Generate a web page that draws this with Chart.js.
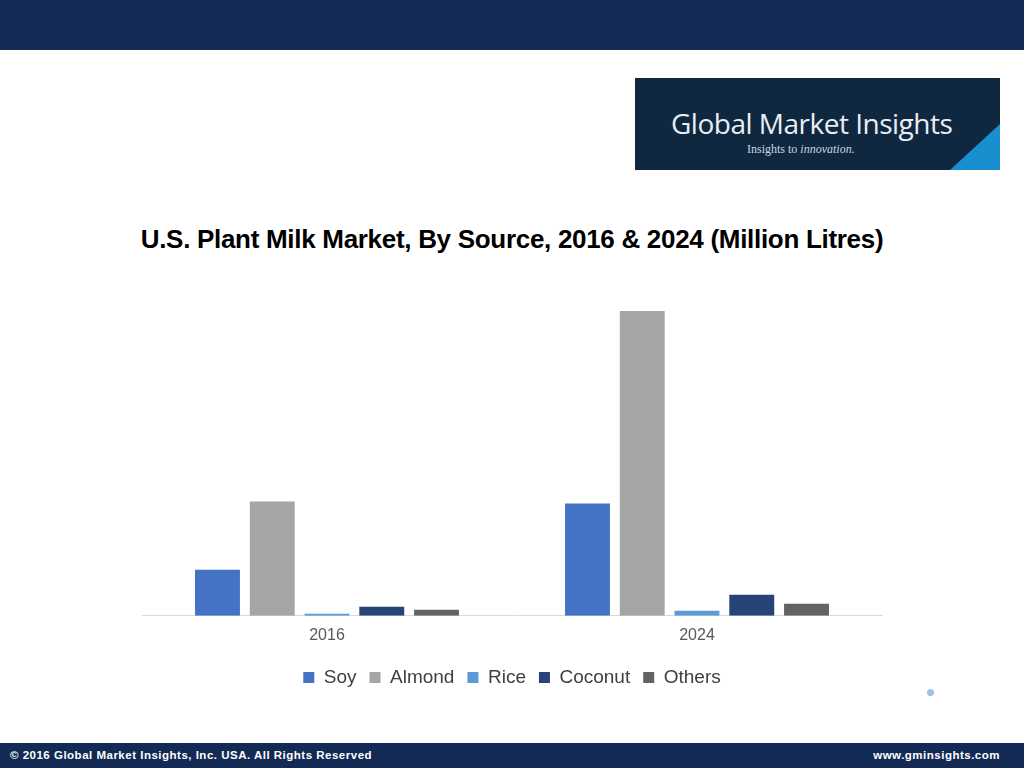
<!DOCTYPE html>
<html><head><meta charset="utf-8">
<script src="https://cdn.jsdelivr.net/npm/chart.js@4/dist/chart.umd.min.js"></script>
<style>
body{margin:0;width:1024px;height:768px;position:relative;background:#fff;font-family:"Liberation Sans",Arial,sans-serif;overflow:hidden}
#top{position:absolute;left:0;top:0;width:1024px;height:50px;background:#132a54}
#logo{position:absolute;left:635px;top:78px;width:365px;height:92px;background:#10283f;overflow:hidden}
#logo .t{position:absolute;left:36px;top:26px;color:#e8eef3;font-family:"Open Sans",sans-serif;font-size:28px;letter-spacing:-0.5px}
#logo .s{position:absolute;left:112px;top:64px;color:#c9d6e0;font-family:"Liberation Serif",serif;font-size:12px}
#logo .s i{font-style:italic}
#logo .tri{position:absolute;right:0;bottom:0;width:0;height:0;border-left:50px solid transparent;border-bottom:46px solid #1a8fd0}
#title{position:absolute;left:0;top:224px;width:1024px;text-align:center;font-weight:bold;font-size:26px;letter-spacing:-0.3px;color:#000}
#wrap{position:absolute;left:137px;top:276px;width:750px;height:422px}
#foot{position:absolute;left:0;top:743px;width:1024px;height:25px;background:#132a54;color:#fff;font-weight:bold;font-size:11.5px;letter-spacing:0.5px}
#foot .l{position:absolute;left:10px;top:6px}
#foot .r{position:absolute;right:24px;top:6px}
#dot{position:absolute;left:927px;top:689px;width:7px;height:7px;border-radius:50%;background:#9cc3e6}
</style></head><body>
<div id="top"></div>
<div id="logo"><div class="t">Global Market Insights</div><div class="s">Insights to <i>innovation.</i></div><div class="tri"></div></div>
<div id="title">U.S. Plant Milk Market, By Source, 2016 &amp; 2024 (Million Litres)</div>
<div id="wrap"><canvas id="c"></canvas></div>
<div id="dot"></div>
<div id="foot"><span class="l">© 2016 Global Market Insights, Inc. USA.  All Rights Reserved</span><span class="r">www.gminsights.com</span></div>
<script>
const categories=["2016","2024"];
const soy=[46,112];
const almond=[114,304];
const rice=[2,5];
const coconut=[9,21];
const others=[6,12];
const names=["Soy","Almond","Rice","Coconut","Others"];
const colors=["#4472c4","#a5a5a5","#5b9bd5","#264478","#636363"];
const series=[soy,almond,rice,coconut,others];
new Chart(document.getElementById('c'),{type:'bar',
data:{labels:categories,datasets:series.map((d,i)=>({label:names[i],data:d,backgroundColor:colors[i],barPercentage:0.82,categoryPercentage:0.74}))},
options:{responsive:true,maintainAspectRatio:false,animation:false,
layout:{padding:{left:5,right:5,top:0,bottom:1}},
plugins:{legend:{position:'bottom',labels:{boxWidth:11,boxHeight:11,padding:13,color:'#404040',font:{size:19,family:'"Liberation Sans Narrow","Liberation Sans",Arial'}}},tooltip:{enabled:false}},
scales:{x:{grid:{display:false,drawTicks:false},border:{color:'#d9d9d9'},ticks:{color:'#595959',padding:10,font:{size:16}}},
y:{display:false,min:0,max:339}}}});
</script>
</body></html>
